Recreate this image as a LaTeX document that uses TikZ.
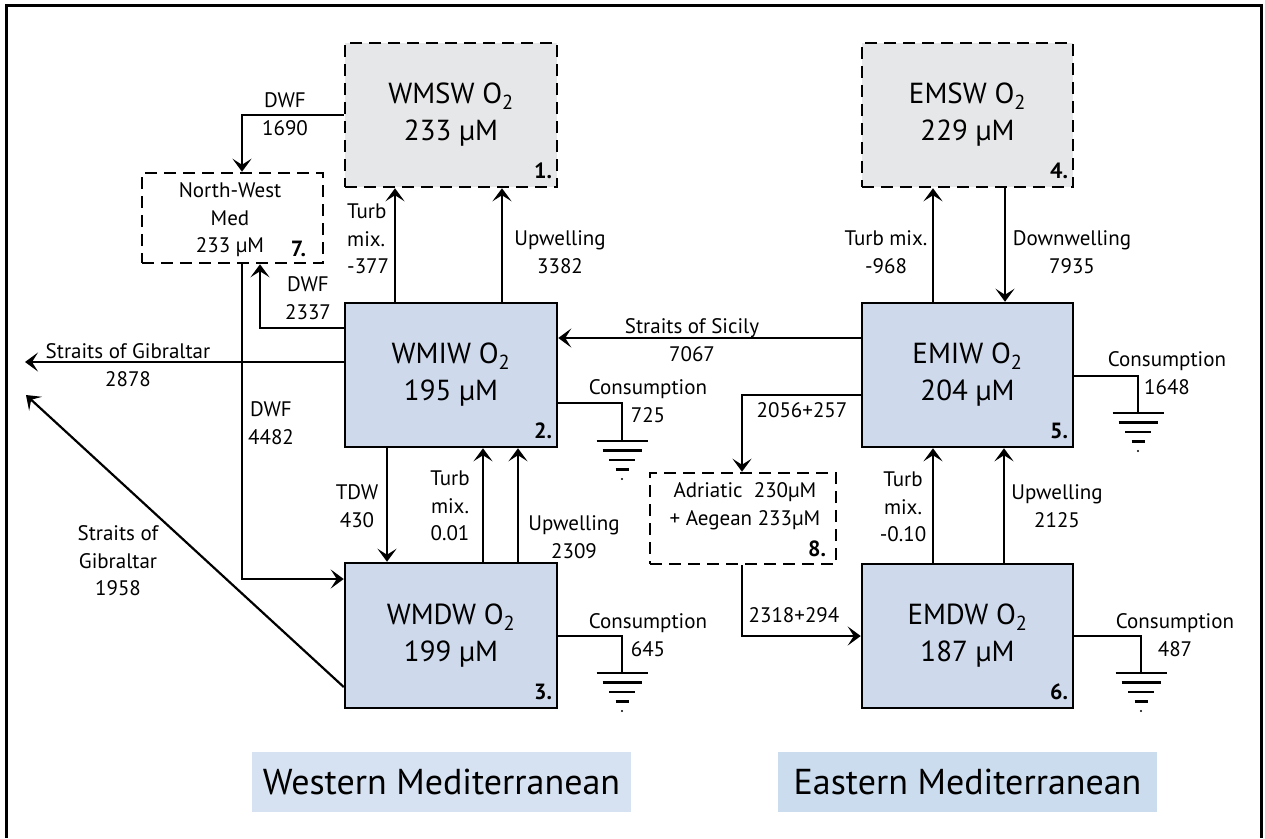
\documentclass[tikz,border=0pt]{standalone}
\usepackage{fontspec}
\setmainfont{PT Sans}
\usetikzlibrary{arrows.meta}
\definecolor{boxblue}{RGB}{206,217,236}
\definecolor{boxgray}{RGB}{230,231,232}
\definecolor{westblue}{RGB}{214,226,241}
\definecolor{eastblue}{RGB}{203,220,238}
\tikzset{
  box/.style={draw, line width=2.5pt, minimum width=212pt, minimum height=144pt, inner sep=0pt, align=center, font=\fontsize{29}{37}\selectfont},
  solidbox/.style={box, fill=boxblue},
  graybox/.style={box, fill=boxgray, dash pattern=on 12pt off 7pt},
  smallbox/.style={draw, line width=2.5pt, dash pattern=on 12pt off 7pt, inner sep=0pt, align=center, font=\fontsize{21}{28}\selectfont},
  arr/.style={line width=2.2pt, -{Stealth[length=13pt,width=19pt,inset=6pt]}},
  plain/.style={line width=2.2pt},
  lbl/.style={font=\fontsize{21}{27.5}\selectfont, align=center, inner sep=0pt},
  lbll/.style={lbl, align=left},
  num/.style={font=\bfseries\fontsize{22}{22}\selectfont, inner sep=0pt, anchor=base east},
  region/.style={minimum width=379pt, minimum height=60pt, inner sep=0pt, font=\fontsize{36}{36}\selectfont},
  gndsym/.pic={
    \draw[line width=2.5pt] (-25.5,0)--(25.5,0) (-19.5,9.5)--(19.5,9.5) (-13,19)--(13,19) (-6.5,28.5)--(6.5,28.5);
    \fill (0,38) circle (1.2pt);
  }
}
\begin{document}
\begin{tikzpicture}[x=1pt,y=-1pt]
\useasboundingbox (0,0) rectangle (1265,838);
% frame
\draw[line width=3pt] (6,838) -- (6,5) -- (1261,5) -- (1261,838);

% boxes
\node[graybox] (b1) at (451,115) {WMSW O\textsubscript{2}\\233 µM};
\node[solidbox] (b2) at (451,375) {WMIW O\textsubscript{2}\\195 µM};
\node[solidbox, minimum height=145pt] (b3) at (451,635.5) {WMDW O\textsubscript{2}\\199 µM};
\node[graybox, minimum width=211pt] (b4) at (967.5,115) {EMSW O\textsubscript{2}\\229 µM};
\node[solidbox, minimum width=211pt] (b5) at (967.5,375) {EMIW O\textsubscript{2}\\204 µM};
\node[solidbox, minimum width=211pt] (b6) at (967.5,636) {EMDW O\textsubscript{2}\\187 µM};
\node[smallbox, minimum width=181pt, minimum height=90pt, text depth=0pt] (b7) at (232.5,218) {};
\node[lbl] (t7) at (230,220) {North-West\\Med\\233 µM};
\node[smallbox, minimum width=186pt, minimum height=91pt] (b8) at (743,518.5) {};
\node[lbl] (t8) at (745,506) {Adriatic\ \ 230µM\\+ Aegean 233µM};

% box numbers
\node[num] (n1) at ([xshift=-6pt,yshift=10pt]b1.south east) {1.};
\node[num] (n2) at ([xshift=-6pt,yshift=10pt]b2.south east) {2.};
\node[num] (n3) at ([xshift=-6pt,yshift=10pt]b3.south east) {3.};
\node[num] (n4) at ([xshift=-6pt,yshift=10pt]b4.south east) {4.};
\node[num] (n5) at ([xshift=-6pt,yshift=10pt]b5.south east) {5.};
\node[num] (n6) at ([xshift=-6pt,yshift=10pt]b6.south east) {6.};
\node[num] (n7) at ([xshift=-18pt,yshift=8pt]b7.south east) {7.};
\node[num] (n8) at ([xshift=-11pt,yshift=9pt]b8.south east) {8.};

% free ends
\coordinate (g1) at (25,362);
\coordinate (g2) at (26,395);
\coordinate (gnd1) at (622,441);
\coordinate (gnd2) at (622,673);
\coordinate (gnd3) at (1138,413);
\coordinate (gnd4) at (1141,673);

% western connectors
\draw[arr] ([xshift=-56pt]b2.north) -- ([xshift=-56pt]b1.south);
\draw[arr] ([xshift=51pt]b2.north) -- ([xshift=51pt]b1.south);
\draw[arr] (b1.west) -| ([xshift=9.5pt]b7.north);
\draw[arr] ([yshift=47pt]b2.west) -| ([xshift=27.5pt]b7.south);
\draw[arr] ([yshift=13pt]b2.west) -- (g1);
\draw[arr] ([xshift=9.5pt]b7.south) |- ([yshift=56.5pt]b3.west);
\draw[arr] ([xshift=-64pt]b2.south) -- ([xshift=-64pt]b3.north);
\draw[arr] ([xshift=32pt]b3.north) -- ([xshift=32pt]b2.south);
\draw[arr] ([xshift=67pt]b3.north) -- ([xshift=67pt]b2.south);
\draw[arr] ([yshift=-51.5pt]b3.west) -- (g2);
\draw[plain] ([yshift=-28pt]b2.east) -| (gnd1);
\draw[plain] ([yshift=-0.5pt]b3.east) -| (gnd2);
\pic at (gnd1) {gndsym};
\pic at (gnd2) {gndsym};

% eastern connectors
\draw[arr] ([yshift=37pt]b5.west) -- ([yshift=37pt]b2.east);
\draw[arr] ([yshift=-20pt]b5.west) -| ([xshift=-1pt]b8.north);
\draw[arr] ([xshift=-1pt]b8.south) |- (b6.west);
\draw[arr] ([xshift=-34.5pt]b6.north) -- ([xshift=-34.5pt]b5.south);
\draw[arr] ([xshift=36.5pt]b6.north) -- ([xshift=36.5pt]b5.south);
\draw[arr] ([xshift=-34.5pt]b5.north) -- ([xshift=-34.5pt]b4.south);
\draw[arr] ([xshift=37.5pt]b4.south) -- ([xshift=37.5pt]b5.north);
\draw[plain] ([yshift=-1pt]b5.east) -| (gnd3);
\draw[plain] (b6.east) -| (gnd4);
\pic at (gnd3) {gndsym};
\pic at (gnd4) {gndsym};

% labels
\node[lbl] (l1) at (285,114) {DWF\\1690};
\node[lbll, anchor=west] (l2) at (347,239) {Turb\\mix.\\-377};
\node[lbl] (l3) at (560,252) {Upwelling\\3382};
\node[lbl] (l4) at (308,298) {DWF\\2337};
\node[lbl] (l5) at (128,365) {Straits of Gibraltar\\2878};
\node[lbl] (l6) at (271,423) {DWF\\4482};
\node[lbl] (l7) at (357,506) {TDW\\430};
\node[lbl] (l8) at (450,506) {Turb\\mix.\\0.01};
\node[lbl] (l9) at (574,537) {Upwelling\\2309};
\node[lbl] (l10) at (118,561) {Straits of\\Gibraltar\\1958};
\node[lbl] (l11) at (692,340) {Straits of Sicily\\7067};
\node[lbl] (l12) at (648,401) {Consumption\\725};
\node[lbl] (l13) at (648,635) {Consumption\\645};
\node[lbl] (l14) at (802,410) {2056+257};
\node[lbl] (l15) at (794,615) {2318+294};
\node[lbl] (l16) at (886,252) {Turb mix.\\-968};
\node[lbl] (l17) at (1072,252) {Downwelling\\7935};
\node[lbl] (l18) at (1167,373) {Consumption\\1648};
\node[lbl] (l19) at (903,507) {Turb\\mix.\\-0.10};
\node[lbl] (l20) at (1057,506) {Upwelling\\2125};
\node[lbl] (l21) at (1175,635) {Consumption\\487};

% region labels
\node[region, fill=westblue] (west) at (441.5,782) {Western Mediterranean};
\node[region, fill=eastblue] (east) at (967.5,782) {Eastern Mediterranean};
\end{tikzpicture}
\end{document}
